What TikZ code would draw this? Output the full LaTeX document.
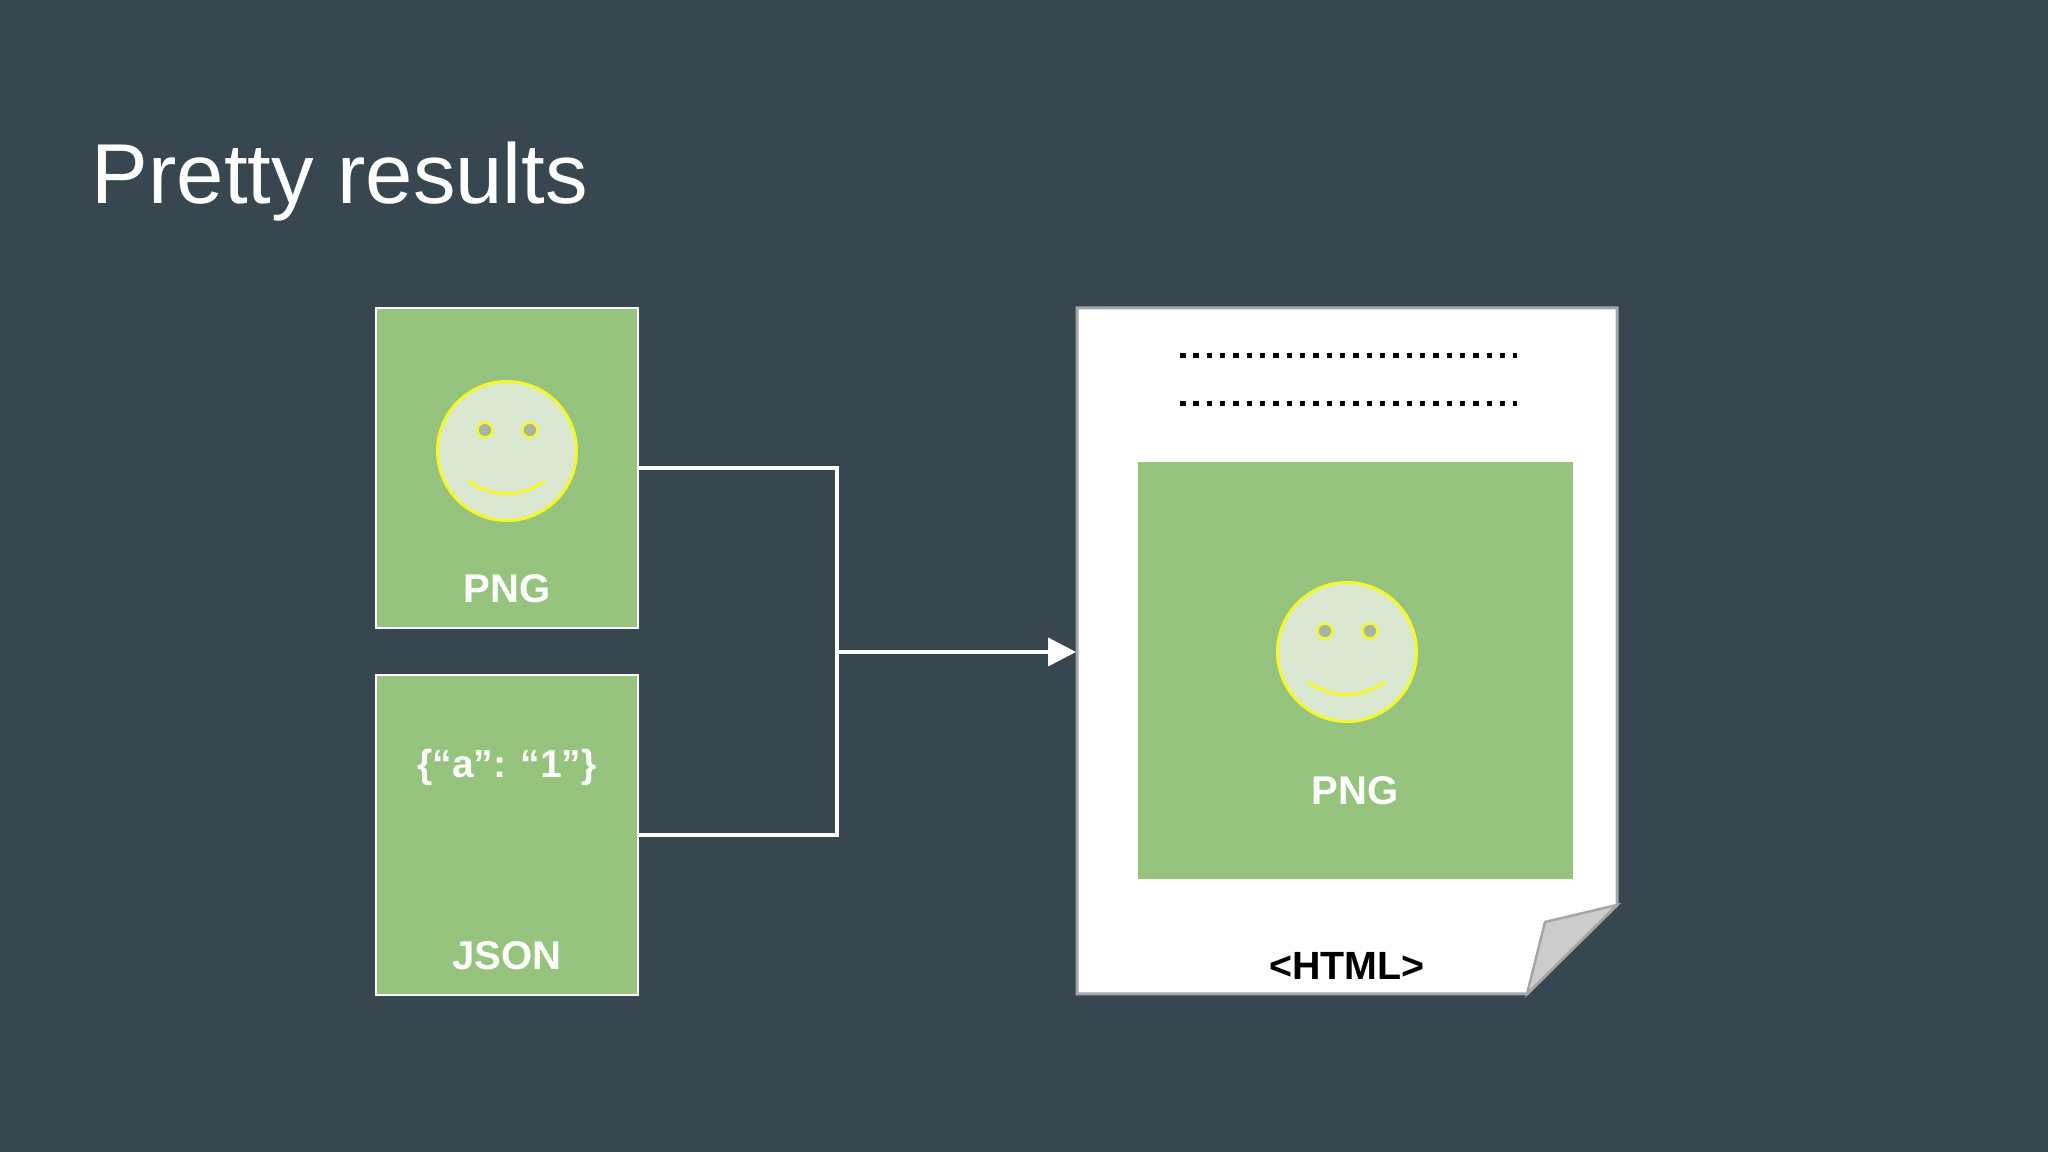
\documentclass[tikz,border=0pt]{standalone}
\usepackage{fontspec}
\setmainfont{Liberation Sans}
\usetikzlibrary{arrows.meta}

\definecolor{slidebg}{HTML}{38464F}
\definecolor{leaf}{HTML}{96C47F}
\definecolor{facefill}{HTML}{DAE8D2}
\definecolor{eyefill}{HTML}{A9B5A3}
\definecolor{smiley}{HTML}{F4F72A}
\definecolor{pageedge}{HTML}{A4A7AA}
\definecolor{foldfill}{HTML}{CCCCCC}

\tikzset{
  title/.style={anchor=base west, inner sep=0pt, text=white, font=\fontsize{24.2}{29}\selectfont},
  tag/.style={anchor=base, inner sep=0pt, text=white, font=\fontsize{11.4}{13}\selectfont\bfseries},
  smalltag/.style={tag, font=\fontsize{11.1}{13}\selectfont\bfseries},
  box/.style={rectangle, draw=white, line width=0.02cm, fill=leaf, minimum width=2.62cm, minimum height=3.205cm},
  wire/.style={draw=white, line width=0.04cm},
  facebody/.style={circle, draw=smiley, line width=0.03cm, fill=facefill, minimum size=1.39cm, inner sep=0pt},
  faceeye/.style={circle, draw=smiley, line width=0.025cm, fill=eyefill, minimum size=0.15cm, inner sep=0pt},
  facesmile/.style={draw=smiley, line width=0.03cm},
  dotrow/.style={draw=black, line width=0.055cm, dash pattern=on 0.055cm off 0.0783cm}
}

\begin{document}
\begin{tikzpicture}
\fill[slidebg] (0,0) rectangle (20.48,11.52);
\node[title] (head) at (0.91,9.48) {Pretty results};

% left boxes
\node[box] (png) at (5.07,6.84) {};
\node[box] (json) at (5.07,3.17) {};
\node[tag] (pngtag) at (5.07,5.49) {PNG};
\node[smalltag] (jsonbody) at (5.07,3.74) {\{“a”: “1”\}};
\node[tag] (jsontag) at (5.07,1.82) {JSON};

% html page
\coordinate (pagetl) at (10.77,8.44);
\coordinate (pagetr) at (16.17,8.44);
\coordinate (pagefr) at (16.17,2.47);
\coordinate (pagefb) at (15.27,1.58);
\coordinate (pagebl) at (10.77,1.58);
\coordinate (foldtip) at (15.45,2.30);
\draw[pageedge, line width=0.03cm, fill=white] (pagetl) -- (pagetr) -- (pagefr) -- (pagefb) -- (pagebl) -- cycle;
\draw[pageedge, line width=0.025cm, fill=foldfill] (pagefr) -- (foldtip) -- (pagefb) -- cycle;
\coordinate (row1a) at (11.80,7.965);
\coordinate (row1b) at (15.17,7.965);
\coordinate (row2a) at (11.80,7.485);
\coordinate (row2b) at (15.17,7.485);
\draw[dotrow] (row1a) -- (row1b);
\draw[dotrow] (row2a) -- (row2b);
\node[rectangle, fill=leaf, minimum width=4.355cm, minimum height=4.17cm] (pic) at (13.555,4.815) {};
\node[tag] (pictag) at (13.55,3.47) {PNG};
\node[smalltag, text=black, font=\fontsize{11.2}{13}\selectfont\bfseries] (htmltag) at (13.47,1.72) {<HTML>};

% both faces
\foreach \n/\x/\y in {a/5.07/7.01, b/13.47/5.00} {
  \begin{scope}[shift={(\x,\y)}]
    \node[facebody] (face\n) at (0,0) {};
    \node[faceeye] (eyel\n) at (-0.22,0.21) {};
    \node[faceeye] (eyer\n) at (0.23,0.21) {};
    \coordinate (smilel\n) at (-0.39,-0.30);
    \coordinate (smiler\n) at (0.38,-0.30);
    \draw[facesmile] (smilel\n) .. controls (-0.13,-0.47) and (0.12,-0.47) .. (smiler\n);
  \end{scope}
}

% connectors
\coordinate (bus) at (8.37,5.00);
\coordinate (pagein) at (10.76,5.00);
\draw[wire] (png.east) -| (bus) |- (json.east);
\draw[wire, -{Triangle[length=0.28cm, width=0.28cm]}] (bus) -- (pagein);
\end{tikzpicture}
\end{document}
